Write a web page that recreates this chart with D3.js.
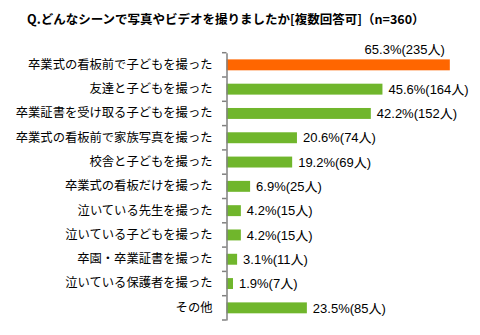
<!DOCTYPE html>
<html><head><meta charset="utf-8">
<script src="https://cdn.jsdelivr.net/npm/d3@7"></script>
<style>
html,body{margin:0;padding:0;background:#fff;}
svg{display:block;}
text{font-family:"Liberation Sans","Noto Sans CJK JP",sans-serif;fill:#000;}
</style></head><body>
<svg id="c" width="480" height="335"></svg>
<script>
const categories = ["卒業式の看板前で子どもを撮った","友達と子どもを撮った","卒業証書を受け取る子どもを撮った","卒業式の看板前で家族写真を撮った","校舎と子どもを撮った","卒業式の看板だけを撮った","泣いている先生を撮った","泣いている子どもを撮った","卒園・卒業証書を撮った","泣いている保護者を撮った","その他"];
const percents = [65.3,45.6,42.2,20.6,19.2,6.9,4.2,4.2,3.1,1.9,23.5];
const counts = [235,164,152,74,69,25,15,15,11,7,85];
const title = "Q.どんなシーンで写真やビデオを撮りましたか[複数回答可]（n=360）";

const svg = d3.select("#c");
const x0 = 226.5;
const x = d3.scaleLinear().domain([0,70]).range([x0, x0 + 70*3.42]);
const y = d3.scaleBand().domain(categories).range([52.7, 320]).paddingInner(0.55).paddingOuter(0.275);

svg.append("text").attr("x",27).attr("y",24).attr("font-size",12.5).attr("font-weight","bold")
  .style("font-family",'"Noto Sans CJK JP",sans-serif').text(title);

// bars
svg.selectAll("rect.bar").data(categories).enter().append("rect")
  .attr("x", x(0)).attr("y", d=>y(d))
  .attr("width", (d,i)=>x(percents[i])-x(0))
  .attr("height", y.bandwidth())
  .attr("fill", (d,i)=> i===0 ? "#FF6600" : "#70B62C");

// axis
const band = d3.scaleBand().domain(categories).range([52.7,320]);
const axis = d3.axisLeft(band).tickSize(0).tickFormat(d=>d).tickPadding(14);
const g = svg.append("g").attr("transform",`translate(${x0},0)`).call(axis);
g.select(".domain").attr("stroke","#808080").attr("stroke-width",1.5);
g.selectAll(".tick text").attr("font-size",12.3).style("font-family",'"Noto Sans CJK JP",sans-serif').attr("fill","#000");
// tick marks at band boundaries
const bounds = categories.map(c=>band(c)).concat([320]);
svg.selectAll("line.tk").data(bounds).enter().append("line")
  .attr("x1",x0-4.5).attr("x2",x0).attr("y1",d=>d).attr("y2",d=>d)
  .attr("stroke","#808080").attr("stroke-width",1.5);

// value labels
svg.selectAll("text.val").data(categories).enter().append("text")
  .attr("font-size",13)
  .attr("x",(d,i)=> i===0 ? x(percents[i]) - 5 : x(percents[i]) + 6)
  .attr("y",(d,i)=> i===0 ? y(d) - 5 : y(d)+y.bandwidth()/2)
  .attr("dy",(d,i)=> i===0 ? 0 : "0.36em")
  .attr("text-anchor",(d,i)=> i===0 ? "end" : "start")
  .text((d,i)=> percents[i].toFixed(1)+"%("+counts[i]+"人)");
</script>
</body></html>
